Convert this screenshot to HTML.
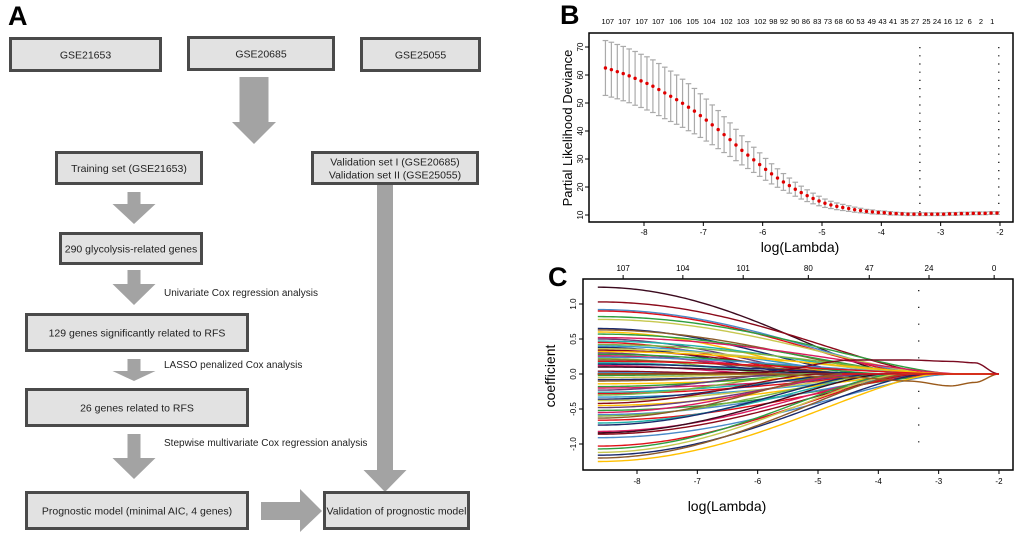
<!DOCTYPE html>
<html><head><meta charset="utf-8"><style>
html,body{margin:0;padding:0;background:#fff;}
svg{display:block;font-family:"Liberation Sans",Arial,sans-serif;}
</style></head><body>
<svg id="fig" width="1020" height="538" viewBox="0 0 1020 538">
<g id="panelA">
<text x="8" y="25" font-size="27" font-weight="bold">A</text>
</g>
<g id="panelB">
<text x="560" y="24" font-size="27" font-weight="bold">B</text>
</g>
<g id="panelC">
<text x="548" y="286" font-size="27" font-weight="bold">C</text>
</g>
</svg>
<script>
// ---------- Panel B data ----------
const bMeans = [62.5,61.9,61.2,60.5,59.7,58.8,57.9,57.0,56.0,54.8,53.6,52.4,51.2,49.9,48.5,47.1,45.5,43.9,42.2,40.5,38.7,36.9,35.0,33.1,31.4,29.7,28.0,26.3,24.7,23.2,21.8,20.5,19.2,18.0,16.9,15.9,15.0,14.2,13.6,13.1,12.7,12.3,11.9,11.6,11.3,11.1,10.9,10.8,10.6,10.5,10.4,10.3,10.3,10.3,10.3,10.3,10.3,10.3,10.4,10.4,10.5,10.5,10.6,10.6,10.6,10.7,10.7];
const bSE = [9.8,9.8,9.7,9.7,9.6,9.6,9.5,9.5,9.4,9.3,9.2,9.0,8.8,8.6,8.4,8.1,7.8,7.5,7.1,6.8,6.4,6.0,5.6,5.2,4.8,4.5,4.2,3.9,3.6,3.3,3.0,2.7,2.5,2.3,2.1,1.9,1.7,1.5,1.3,1.2,1.1,1.0,0.9,0.8,0.7,0.7,0.6,0.6,0.6,0.5,0.5,0.5,0.5,0.5,0.5,0.5,0.5,0.5,0.5,0.5,0.5,0.5,0.5,0.5,0.5,0.5,0.5];
const bLogStart = -8.65, bLogStep = 0.1;
const bTopLabels = ["107","107","107","107","106","105","104","102","103","102","98","92","90","86","83","73","68","60","53","49","43","41","35","27","25","24","16","12","6","2","1"];
const bTopLabelLog = [-8.61,-8.33,-8.04,-7.76,-7.47,-7.18,-6.90,-6.61,-6.33,-6.04,-5.82,-5.64,-5.45,-5.27,-5.08,-4.90,-4.72,-4.53,-4.35,-4.16,-3.98,-3.80,-3.61,-3.43,-3.24,-3.06,-2.88,-2.69,-2.51,-2.32,-2.13];
const bXTicks = [-8,-7,-6,-5,-4,-3,-2];
const bYTicks = [10,20,30,40,50,60,70];
const bVLines = [-3.35,-2.02];
// ---------- Panel C data ----------
const cStart = [1.24,1.03,0.92,0.90,0.82,0.78,0.65,0.63,0.60,0.57,0.52,0.50,0.47,0.45,0.42,0.40,0.38,0.36,0.34,0.32,0.30,0.28,0.26,0.24,0.22,0.20,0.18,0.16,0.14,0.12,0.10,0.04,0.02,0.00,-0.02,-0.05,-0.08,-0.10,-0.14,-0.18,-0.20,-0.23,-0.26,-0.28,-0.30,-0.33,-0.36,-0.38,-0.42,-0.45,-0.48,-0.52,-0.55,-0.58,-0.60,-0.63,-0.66,-0.70,-0.73,-0.82,-0.84,-0.86,-0.91,-1.03,-1.07,-1.12,-1.16,-1.20,-1.25];
const cZero = [-3.6,-3.0,-3.2,-3.3,-2.7,-3.0,-4.2,-3.5,-4.5,-3.2,-2.6,-4.8,-3.4,-5.0,-2.9,-4.0,-5.2,-3.1,-4.4,-2.7,-5.4,-3.8,-4.6,-3.0,-5.6,-4.1,-2.8,-5.0,-3.9,-5.8,-4.4,-6.2,-6.6,-5.0,-6.4,-5.8,-4.8,-5.2,-3.7,-4.9,-3.2,-5.6,-4.0,-3.4,-5.2,-2.9,-4.5,-3.6,-5.0,-3.3,-4.2,-2.7,-4.4,-3.1,-3.9,-4.6,-3.0,-3.8,-4.1,-3.5,-3.9,-3.3,-2.8,-3.4,-3.7,-3.6,-3.2,-3.5,-3.0];
const cColors = ["#3b0a1e","#8b0a1a","#4a8ac8","#e0101a","#2e9e3e","#c8c850","#1a2a6c","#8b5a2b","#ffc000","#2e9e3e","#d81b60","#6a3d7a","#20b2aa","#e0101a","#7cb342","#3399cc","#1a2a6c","#c8c850","#8b0a1a","#ffc000","#6a3d7a","#2e9e3e","#d81b60","#4a8ac8","#7cb342","#8b5a2b","#e0101a","#20b2aa","#1a2a6c","#d81b60"];
const cSpecialLog = [-8.65,-6,-4.4,-3.5,-2.8,-2.4,-2.0];
const cSpecialPos = [0.0,0.02,0.2,0.2,0.18,0.16,0.0];
const cSpecialNeg = [0.0,0.0,-0.05,-0.1,-0.17,-0.12,0.0];
const cTopLabels = ["107","104","101","80","47","24","0"];
const cTopLabelLog = [-8.23,-7.24,-6.24,-5.16,-4.15,-3.16,-2.08];
const cXTicks = [-8,-7,-6,-5,-4,-3,-2];
const cYTicks = [-1.0,-0.5,0.0,0.5,1.0];
const cVLine = -3.33;

const NS="http://www.w3.org/2000/svg";
function mk(tag,attrs,parent,text){const e=document.createElementNS(NS,tag);for(const k in attrs)e.setAttribute(k,attrs[k]);if(text!==undefined)e.textContent=text;parent.appendChild(e);return e;}

// ---------- Panel A ----------
const A=document.getElementById('panelA');
const boxes=[
 [9,37,153,35,["GSE21653"],'box-gse21653'],
 [187,36,148,35,["GSE20685"],'box-gse20685'],
 [360,37,121,35,["GSE25055"],'box-gse25055'],
 [55,151,148,34,["Training set (GSE21653)"],'box-training-set'],
 [311,151,168,34,["Validation set I (GSE20685)","Validation set II (GSE25055)"],'box-validation-sets'],
 [59,232,144,33,["290 glycolysis-related genes"],'box-glycolysis-genes'],
 [25,313,224,39,["129 genes significantly related to RFS"],'box-129-genes'],
 [25,388,224,39,["26 genes related to RFS"],'box-26-genes'],
 [25,491,224,39,["Prognostic model (minimal AIC, 4 genes)"],'box-prognostic-model'],
 [323,491,147,39,["Validation of prognostic model"],'box-validation-model']
];
function arrowDown(cx,sw,y0,y1,hw,yTip,name){
 const p=`M${cx-sw/2},${y0} L${cx+sw/2},${y0} L${cx+sw/2},${y1} L${cx+hw/2},${y1} L${cx},${yTip} L${cx-hw/2},${y1} L${cx-sw/2},${y1} Z`;
 const e=mk('path',{d:p,fill:'#a3a3a3'},A);
 
 
}
arrowDown(254,29,77,122,44,144,'arrow-to-datasets');
arrowDown(134,13,192,204,43,224,'arrow-training-to-genes');
arrowDown(134,13,270,284,43,305,'arrow-univariate');
arrowDown(134,13,359,371,43,381,'arrow-lasso');
arrowDown(134,13,434,458,43,479,'arrow-stepwise');
arrowDown(385,16,185,470,43,492,'arrow-validation-down');
{const e=mk('path',{d:'M261,502 L300,502 L300,489 L322,511 L300,532 L300,520 L261,520 Z',fill:'#a3a3a3'},A);
 
 }
boxes.forEach(b=>{
 const g=mk('g',{},A);
 
 
 mk('rect',{x:b[0]+1.5,y:b[1]+1.5,width:b[2]-3,height:b[3]-3,fill:'#e2e2e2',stroke:'#4a4a4a','stroke-width':3},g);
 const cx=b[0]+b[2]/2, cy=b[1]+b[3]/2;
 b[4].forEach((t,i)=>{mk('text',{x:cx,y:cy+4+(i-(b[4].length-1)/2)*13,'font-size':10.5,'text-anchor':'middle',fill:'#222'},g,t);});
});
[["Univariate Cox regression analysis",296,'label-univariate'],["LASSO penalized Cox analysis",368,'label-lasso'],["Stepwise multivariate Cox regression analysis",446,'label-stepwise']].forEach(l=>{
 const t=mk('text',{x:164,y:l[1],'font-size':10,fill:'#222'},A,l[0]);
 
 
});

// ---------- Panel B ----------
const B=document.getElementById('panelB');
const bx=v=>644+(v+8)*59.33, by=v=>215-(v-10)*2.8;
mk('rect',{x:589,y:33,width:424,height:189,fill:'none',stroke:'#000','stroke-width':1.5},B);
bXTicks.forEach(t=>{mk('line',{x1:bx(t),x2:bx(t),y1:222,y2:226,stroke:'#000'},B);
 const e=mk('text',{x:bx(t),y:235,'font-size':8,'text-anchor':'middle'},B,String(t));
 
 });
bYTicks.forEach(t=>{mk('line',{x1:585,x2:589,y1:by(t),y2:by(t),stroke:'#000'},B);
 const e=mk('text',{x:580,y:by(t),'font-size':8,'text-anchor':'middle',transform:`rotate(-90 580 ${by(t)})`,dy:3},B,String(t));
 
 });
bTopLabels.forEach((t,i)=>{const e=mk('text',{x:bx(bTopLabelLog[i]),y:24,'font-size':7.5,'text-anchor':'middle'},B,t);
 
 });
{const e=mk('text',{x:800,y:252,'font-size':14,'text-anchor':'middle'},B,'log(Lambda)');
 
 }
{const e=mk('text',{x:572,y:128,'font-size':13,'text-anchor':'middle',transform:'rotate(-90 572 128)'},B,'Partial Likelihood Deviance');
 
 }
bVLines.forEach(v=>{const e=mk('line',{x1:bx(v),x2:bx(v),y1:by(70),y2:by(10),stroke:'#000','stroke-width':1.2,'stroke-dasharray':'1.2 7'},B);
 
 });
bMeans.forEach((m,i)=>{
 const x=bx(bLogStart+i*bLogStep), hi=by(m+bSE[i]), lo=by(m-bSE[i]);
 const g=mk('g',{stroke:'#aaa','stroke-width':1.2},B);
 
 
 mk('line',{x1:x,x2:x,y1:hi,y2:lo},g);
 mk('line',{x1:x-2.8,x2:x+2.8,y1:hi,y2:hi},g);
 mk('line',{x1:x-2.8,x2:x+2.8,y1:lo,y2:lo},g);
});
bMeans.forEach((m,i)=>{
 const c=mk('circle',{cx:bx(bLogStart+i*bLogStep),cy:by(m),r:1.7,fill:'#e00000'},B);
 
 
});

// ---------- Panel C ----------
const C=document.getElementById('panelC');
const cx_=v=>637+(v+8)*60.33, cy_=v=>374-v*70;
mk('rect',{x:583,y:279,width:430,height:191,fill:'none',stroke:'#000','stroke-width':1.5},C);
const clipC=mk('clipPath',{id:'clipC'},C);mk('rect',{x:584,y:280,width:428,height:189},clipC);
cXTicks.forEach(t=>{mk('line',{x1:cx_(t),x2:cx_(t),y1:470,y2:474,stroke:'#000'},C);
 const e=mk('text',{x:cx_(t),y:484,'font-size':8,'text-anchor':'middle'},C,String(t));
 
 });
cYTicks.forEach(t=>{mk('line',{x1:579,x2:583,y1:cy_(t),y2:cy_(t),stroke:'#000'},C);
 const e=mk('text',{x:573,y:cy_(t),'font-size':8,'text-anchor':'middle',transform:`rotate(-90 573 ${cy_(t)})`,dy:3},C,t.toFixed(1));
 
 });
cTopLabels.forEach((t,i)=>{mk('line',{x1:cx_(cTopLabelLog[i]),x2:cx_(cTopLabelLog[i]),y1:279,y2:275,stroke:'#000'},C);
 const e=mk('text',{x:cx_(cTopLabelLog[i]),y:271,'font-size':8,'text-anchor':'middle'},C,t);
 
 });
{const e=mk('text',{x:727,y:511,'font-size':14,'text-anchor':'middle'},C,'log(Lambda)');
 
 }
{const e=mk('text',{x:555,y:376,'font-size':14,'text-anchor':'middle',transform:'rotate(-90 555 376)'},C,'coefficient');
 
 }
{const e=mk('line',{x1:cx_(cVLine),x2:cx_(cVLine),y1:cy_(1.2),y2:cy_(-1.15),stroke:'#000','stroke-width':1.2,'stroke-dasharray':'1.2 15.6'},C);
 
 }
const gl=mk('g',{'clip-path':'url(#clipC)',fill:'none','stroke-width':1.4},C);
function pathFrom(xs,ys){return xs.map((x,i)=>(i?'L':'M')+cx_(x).toFixed(1)+','+cy_(ys[i]).toFixed(2)).join(' ');}
cStart.forEach((v0,i)=>{
 const z=cZero[i], xs=[], ys=[];
 for(let x=-8.65;x<=-2.0001;x+=0.05){
  const u=Math.min(1,(x+8.65)/(z+8.65));
  xs.push(x); ys.push(v0*Math.pow(1-u*u,1.6));
 }
 xs.push(-2.0); ys.push(0);
 const p=mk('path',{d:pathFrom(xs,ys),stroke:cColors[i%cColors.length]},gl);
 
 
});
function smoothSpecial(ys,col,name){
 const xs=[],vs=[];
 for(let k=0;k<cSpecialLog.length-1;k++){
  for(let t=0;t<1;t+=0.1){const s=t*t*(3-2*t);xs.push(cSpecialLog[k]+(cSpecialLog[k+1]-cSpecialLog[k])*t);vs.push(ys[k]+(ys[k+1]-ys[k])*s);}
 }
 xs.push(cSpecialLog[cSpecialLog.length-1]);vs.push(ys[ys.length-1]);
 const p=mk('path',{d:pathFrom(xs,vs),stroke:col},gl);
 
 
}
smoothSpecial(cSpecialPos,'#7a0a20','c-coef-path-last-positive');
smoothSpecial(cSpecialNeg,'#9a5a1b','c-coef-path-last-negative');
{const p=mk('line',{x1:cx_(-4.6),x2:cx_(-2.0),y1:cy_(0),y2:cy_(0),stroke:'#e0101a','stroke-width':1.4},gl);
 
 }
</script>
</body></html>
